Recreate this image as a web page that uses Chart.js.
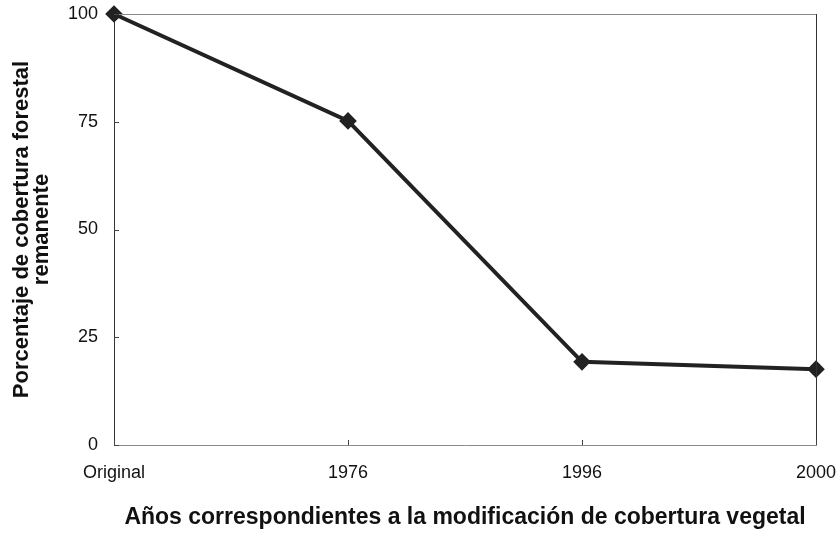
<!DOCTYPE html>
<html>
<head>
<meta charset="utf-8">
<script src="https://cdn.jsdelivr.net/npm/chart.js@4"></script>
<style>
html,body{margin:0;padding:0;background:#fff;}
#wrap{width:837px;height:534px;position:relative;}
</style>
</head>
<body>
<div id="wrap"><canvas id="c" width="837" height="534"></canvas></div>
<script>
const categories = ["Original", "1976", "1996", "2000"];
const coverValues = [100, 75.2, 19.3, 17.6];
const yTicks = [0, 25, 50, 75, 100];
const xTitle = "Años correspondientes a la modificación de cobertura vegetal";
const yTitle = ["Porcentaje de cobertura forestal", "remanente"];

const FONT = "'Liberation Sans', Arial, sans-serif";

const framePlugin = {
  id: 'frame',
  afterDraw(chart) {
    const {ctx, chartArea: a, scales} = chart;
    ctx.save();
    ctx.lineWidth = 1;
    ctx.strokeStyle = '#8a8a8a';
    ctx.beginPath();
    ctx.moveTo(a.left, a.top + 0.5);
    ctx.lineTo(a.right, a.top + 0.5);
    ctx.stroke();
    ctx.strokeStyle = '#333';
    ctx.beginPath();
    ctx.moveTo(a.right + 0.5, a.top);
    ctx.lineTo(a.right + 0.5, a.bottom);
    ctx.stroke();
    ctx.strokeStyle = '#444';
    const y = scales.y;
    y.ticks.forEach((t, i) => {
      const py = Math.round(y.getPixelForTick(i)) + 0.5;
      ctx.beginPath();
      ctx.moveTo(a.left, py);
      ctx.lineTo(a.left + 5, py);
      ctx.stroke();
    });
    const x = scales.x;
    x.ticks.forEach((t, i) => {
      const px = Math.round(x.getPixelForTick(i)) + 0.5;
      ctx.beginPath();
      ctx.moveTo(px, a.bottom);
      ctx.lineTo(px, a.bottom - 5);
      ctx.stroke();
    });
    ctx.restore();
  }
};

new Chart(document.getElementById('c'), {
  type: 'line',
  data: {
    labels: categories,
    datasets: [{
      data: coverValues,
      borderColor: '#222',
      backgroundColor: '#222',
      borderWidth: 4,
      pointStyle: 'rectRot',
      pointRadius: 6,
      pointHoverRadius: 6,
      tension: 0,
      clip: false
    }]
  },
  options: {
    responsive: false,
    animation: false,
    devicePixelRatio: 1,
    layout: {padding: {top: 14, right: 21, left: 0, bottom: 0}},
    plugins: {legend: {display: false}, tooltip: {enabled: false}},
    scales: {
      x: {
        type: 'category',
        offset: false,
        grid: {display: false, drawTicks: false},
        border: {display: true, color: '#8a8a8a', width: 1},
        ticks: {color: '#111', font: {family: FONT, size: 18}, padding: 17, maxRotation: 0, autoSkip: false},
        title: {display: true, text: xTitle, color: '#111', font: {family: FONT, size: 23, weight: 'bold'}, padding: {top: 0, bottom: 3}},
        afterFit(s) { s.height = 534 - 445; s.paddingLeft = 0; s.paddingRight = 0; }
      },
      y: {
        min: 0, max: 100,
        afterBuildTicks(s) { s.ticks = yTicks.map(v => ({value: v})); },
        grid: {display: false, drawTicks: false},
        border: {display: true, color: '#333', width: 1},
        ticks: {color: '#111', font: {family: FONT, size: 18}, padding: 16},
        title: {display: true, text: yTitle, color: '#111', font: {family: FONT, size: 22, weight: 'bold', lineHeight: 0.92}, padding: {top: 12, bottom: 0}},
        afterFit(s) { s.width = 114; s.paddingTop = 0; s.paddingBottom = 0; }
      }
    }
  },
  plugins: [framePlugin]
});
</script>
</body>
</html>
